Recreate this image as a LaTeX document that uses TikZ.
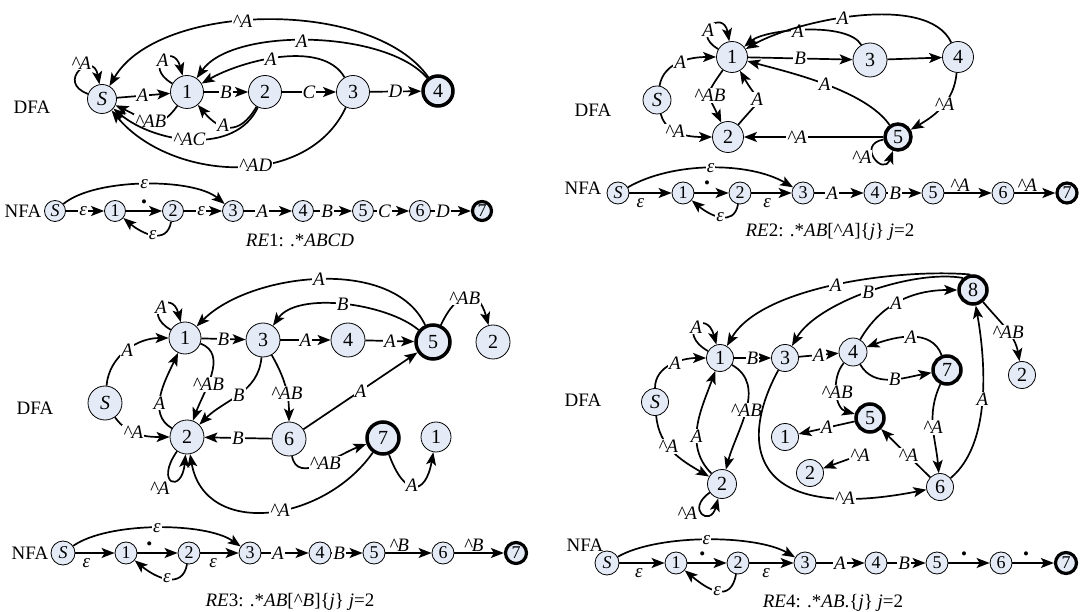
\documentclass[tikz,border=0pt]{standalone}
\usepackage{fontspec}
\setmainfont{Liberation Serif}
\usetikzlibrary{arrows.meta}
\definecolor{nfill}{RGB}{228,235,247}
\newcommand{\crt}{\textasciicircum}
\tikzset{
  st/.style={circle,draw,fill=nfill,line width=0.8pt,inner sep=0pt,minimum size=#1,font=\fontsize{20}{20}\selectfont},
  st/.default=32pt,
  fin/.style={st=#1,line width=3.5pt},
  fin/.default=30pt,
  sm/.style={circle,draw,fill=nfill,line width=0.8pt,inner sep=0pt,minimum size=#1,font=\fontsize{18}{18}\selectfont},
  sm/.default=22pt,
  smfin/.style={sm=#1,line width=3.2pt},
  smfin/.default=20pt,
  itl/.style={font=\fontsize{20}{20}\selectfont\itshape},
  itm/.style={font=\fontsize{18}{18}\selectfont\itshape},
  lab/.style={fill=white,inner sep=1pt,font=\fontsize{19}{19}\selectfont\itshape},
  lbel/.style={lab,below=4pt},
  labv/.style={lab,above=0pt},
  dotl/.style={inner sep=0pt,above=3pt,font=\fontsize{17}{17}\selectfont},
  txt/.style={font=\fontsize{19}{19}\selectfont},
  arr/.style={line width=1.7pt,-{Stealth[length=13pt,width=10pt,inset=3pt]}},
}
\begin{document}
\begin{tikzpicture}[x=1pt,y=-1pt]
\fill[white] (0,0) rectangle (1085,612);
\useasboundingbox (0,0) rectangle (1085,612);

%%%%%%%%%%%%%%%% RE1 %%%%%%%%%%%%%%%%
\node[txt] (r1dfa) at (32,107) {DFA};
\node[st=29pt,itl] (r1S) at (102,99) {S};
\node[st=33pt] (r1a) at (187,92) {1};
\node[st=33pt] (r1b) at (265,92) {2};
\node[st=33pt] (r1c) at (353,92) {3};
\node[fin=30pt] (r1d) at (438,91) {4};
\draw[arr] (r1S) -- node[lab,pos=.48]{A} (r1a);
\draw[arr] (r1a) -- node[lab]{B} (r1b);
\draw[arr] (r1b) -- node[lab]{C} (r1c);
\draw[arr] (r1c) -- node[lab]{D} (r1d);
\draw[arr] (r1a) to[out=150,in=105,distance=35pt] node[lab]{A} (r1a);
\draw[arr] (r1c) to[out=120,in=30,looseness=.8] node[lab,pos=.55]{A} (r1a);
\draw[arr] (r1d) to[out=130,in=55,looseness=.7] node[lab,pos=.53]{A} (r1a);
\draw[arr] (r1d) to[out=125,in=60,looseness=.78] node[lab,pos=.56]{\crt A} (r1S);
\draw[arr] (r1S) to[out=160,in=100,distance=35pt] node[lab,pos=.55,above=-1pt]{\crt A} (r1S);
\draw[arr] (r1a) to[out=235,in=-25,looseness=1.4] node[lab,pos=.5]{\crt AB} (r1S);
\draw[arr] (r1b) to[out=240,in=-50,looseness=1.5] node[lab,pos=.6]{A} (r1a);
\draw[arr] (r1b) to[out=245,in=-40,looseness=.95] node[lab,pos=.52]{\crt AC} (r1S);
\draw[arr] (r1c) to[out=245,in=-50] node[lab,pos=.43]{\crt AD} (r1S);

\node[txt] (r1nfa) at (23,211) {NFA};
\node[sm=21pt,itm] (r1s0) at (55,211) {S};
\node[sm=21pt] (r1s1) at (115,211) {1};
\node[sm=21pt] (r1s2) at (173,211) {2};
\node[sm=21pt] (r1s3) at (233,211) {3};
\node[sm=21pt] (r1s4) at (303,211) {4};
\node[sm=21pt] (r1s5) at (363,211) {5};
\node[sm=21pt] (r1s6) at (420,211) {6};
\node[smfin=19pt] (r1s7) at (482,211) {7};
\draw[arr] (r1s0) -- node[lab,pos=.45]{ε} (r1s1);
\draw[arr] (r1s1) -- node[dotl]{•} (r1s2);
\draw[arr] (r1s2) -- node[lab,pos=.45]{ε} (r1s3);
\draw[arr] (r1s3) -- node[lab,pos=.38]{A} (r1s4);
\draw[arr] (r1s4) -- node[lab,pos=.35]{B} (r1s5);
\draw[arr] (r1s5) -- node[lab,pos=.3]{C} (r1s6);
\draw[arr] (r1s6) -- node[lab,pos=.3]{D} (r1s7);
\draw[arr] (r1s0) to[out=40,in=140,looseness=.65] node[lab]{ε} (r1s3);
\draw[arr] (r1s2) to[out=-100,in=-40,looseness=1.3] node[lab]{ε} (r1s1);
\node[txt] (r1cap) at (300,240) {\textit{RE}1: .*\textit{ABCD}};

%%%%%%%%%%%%%%%% RE2 %%%%%%%%%%%%%%%%
\node[txt] (r2dfa) at (593,110) {DFA};
\node[st=28pt,itl] (r2S) at (657,100) {S};
\node[st=31pt] (r2a) at (732,57) {1};
\node[st=31pt] (r2b) at (728,137) {2};
\node[st=34pt] (r2c) at (870,60) {3};
\node[st=31pt] (r2d) at (958,57) {4};
\node[fin=26pt] (r2e) at (898,137) {5};
\draw[arr] (r2a) to[out=150,in=100,distance=33pt] node[lab,pos=.4]{A} (r2a);
\draw[arr] (r2S) to[out=80,in=180] node[lab]{A} (r2a);
\draw[arr] (r2S) to[out=-75,in=180] node[lab,pos=.4]{\crt A} (r2b);
\draw[arr] (r2a) to[out=235,in=115,looseness=1.6] node[lab]{\crt AB} (r2b);
\draw[arr] (r2b) to[out=50,in=-60,looseness=2] node[lab]{A} (r2a);
\draw[arr] (r2a) -- node[lab]{B} (r2c);
\draw[arr] (r2c) -- (r2d);
\draw[arr] (r2c) to[out=120,in=40,looseness=.6] node[lab,pos=.55]{A} (r2a);
\draw[arr] (r2d) to[out=115,in=30,looseness=.7] node[lab,pos=.56]{A} (r2a);
\draw[arr] (r2d) to[out=-95,in=30] node[lab,pos=.45]{\crt A} (r2e);
\draw[arr] (r2e) to[out=190,in=250,distance=28pt] node[lab,left=1pt]{\crt A} (r2e);
\draw[arr] (r2e) to[out=125,in=-15,looseness=.7] node[lab]{A} (r2a);
\draw[arr] (r2e) -- node[lab,pos=.62]{\crt A} (r2b);

\node[txt] (r2nfa) at (583,188) {NFA};
\node[sm=22pt,itm] (r2s0) at (618,193) {S};
\node[sm] (r2s1) at (683,193) {1};
\node[sm] (r2s2) at (740,193) {2};
\node[sm] (r2s3) at (803,193) {3};
\node[sm] (r2s4) at (875,193) {4};
\node[sm] (r2s5) at (933,193) {5};
\node[sm] (r2s6) at (1003,193) {6};
\node[smfin=20pt] (r2s7) at (1067,193) {7};
\draw[arr] (r2s0) -- node[lbel,pos=.26]{ε} (r2s1);
\draw[arr] (r2s1) -- node[dotl,pos=.37,above=1pt]{•} (r2s2);
\draw[arr] (r2s2) -- node[lbel,pos=.39]{ε} (r2s3);
\draw[arr] (r2s3) -- node[lab,pos=.36]{A} (r2s4);
\draw[arr] (r2s4) -- node[lab,pos=.25]{B} (r2s5);
\draw[arr] (r2s5) -- node[labv,pos=.33]{\crt A} (r2s6);
\draw[arr] (r2s6) -- node[labv,pos=.31]{\crt A} (r2s7);
\draw[arr] (r2s0) to[out=30,in=150,looseness=.8] node[lab]{ε} (r2s3);
\draw[arr] (r2s2) to[out=-100,in=-40,looseness=1.3] node[lab]{ε} (r2s1);
\node[txt] (r2cap) at (830,232) {\textit{RE}2: .*\textit{AB}[\crt\textit{A}]\{\textit{j}\} \textit{j}=2};

%%%%%%%%%%%%%%%% RE3 %%%%%%%%%%%%%%%%
\node[txt] (r3dfa) at (35,408) {DFA};
\node[st=34pt,itl] (r3S) at (105,403) {S};
\node[st=32pt] (r3a) at (185,338) {1};
\node[st=34pt] (r3c) at (263,340) {3};
\node[st=34pt] (r3d) at (348,340) {4};
\node[fin=34pt] (r3e) at (433,342) {5};
\node[st=34pt] (r3x) at (493,342) {2};
\node[st=34pt] (r3b) at (187,437) {2};
\node[st=34pt] (r3f) at (289,439) {6};
\node[fin=32pt] (r3g) at (383,438) {7};
\node[st=30pt] (r3y) at (436,437) {1};
\draw[arr] (r3a) to[out=150,in=105,distance=35pt] node[lab]{A} (r3a);
\draw[arr] (r3S) to[out=85,in=180] node[lab]{A} (r3a);
\draw[arr] (r3a) -- node[lab]{B} (r3c);
\draw[arr] (r3c) -- node[lab]{A} (r3d);
\draw[arr] (r3d) -- node[lab]{A} (r3e);
\draw[arr] (r3e) to[out=115,in=45,looseness=.85] node[lab]{A} (r3a);
\draw[arr] (r3e) to[out=140,in=55,looseness=.74] node[lab]{B} (r3c);
\draw[arr] (r3e) to[out=65,in=105,looseness=2.1] node[lab,pos=.45]{\crt AB} (r3x);
\draw[arr] (r3a) to[out=-20,in=70] node[lab,pos=.6]{\crt AB} (r3b);
\draw[arr] (r3b) to[out=150,in=-115] node[lab,pos=.4]{A} (r3a);
\draw[arr] (r3c) to[out=-95,in=45] node[lab]{B} (r3b);
\draw[arr] (r3c) to[out=-60,in=90] node[lab,pos=.6]{\crt AB} (r3f);
\draw[arr] (r3f) -- node[lab]{A} (r3e);
\draw[arr] (r3f) -- node[lab]{B} (r3b);
\draw[arr] (r3S) to[out=-55,in=180] node[lab,pos=.4]{\crt A} (r3b);
\draw[arr] (r3b) to[out=235,in=265,distance=40pt] node[lab,anchor=north east,pos=.5]{\crt A} (r3b);
\draw[arr] (r3g) to[out=235,in=-80,looseness=1.2] node[lab,pos=.45]{\crt A} (r3b);
\draw[arr] (r3f) to[out=-80,in=200] node[lab,pos=.55]{\crt AB} (r3g);
\draw[arr] (r3g) to[out=-70,in=-100,distance=45pt] node[lab,pos=.45]{A} (r3y);

\node[txt] (r3nfa) at (30,553) {NFA};
\node[sm=24pt,itm] (r3s0) at (63,553) {S};
\node[sm] (r3s1) at (126,553) {1};
\node[sm] (r3s2) at (189,553) {2};
\node[sm] (r3s3) at (250,553) {3};
\node[sm] (r3s4) at (320,553) {4};
\node[sm] (r3s5) at (374,553) {5};
\node[sm] (r3s6) at (443,553) {6};
\node[smfin=21pt] (r3s7) at (516,553) {7};
\draw[arr] (r3s0) -- node[lbel,pos=.28]{ε} (r3s1);
\draw[arr] (r3s1) -- node[dotl,pos=.3]{•} (r3s2);
\draw[arr] (r3s2) -- node[lbel,pos=.33]{ε} (r3s3);
\draw[arr] (r3s3) -- node[lab,pos=.35]{A} (r3s4);
\draw[arr] (r3s4) -- node[lab,pos=.25]{B} (r3s5);
\draw[arr] (r3s5) -- node[labv,pos=.3]{\crt B} (r3s6);
\draw[arr] (r3s6) -- node[labv,pos=.39]{\crt B} (r3s7);
\draw[arr] (r3s0) to[out=35,in=145,looseness=.65] node[lab]{ε} (r3s3);
\draw[arr] (r3s2) to[out=-100,in=-40,looseness=1.3] node[lab]{ε} (r3s1);
\node[txt] (r3cap) at (290,602) {\textit{RE}3: .*\textit{AB}[\crt\textit{B}]\{\textit{j}\} \textit{j}=2};

%%%%%%%%%%%%%%%% RE4 %%%%%%%%%%%%%%%%
\node[txt] (r4dfa) at (583,400) {DFA};
\node[st=27pt,itl] (r4S) at (655,402) {S};
\node[st=27pt] (r4a) at (720,358) {1};
\node[st=27pt] (r4c) at (785,358) {3};
\node[st=28pt] (r4d) at (853,352) {4};
\node[fin=28pt] (r4g) at (947,370) {7};
\node[fin=28pt] (r4e) at (870,418) {5};
\node[fin=28pt] (r4h) at (973,290) {8};
\node[st=27pt] (r4x) at (1022,375) {2};
\node[st=29pt] (r4b) at (722,484) {2};
\node[st=27pt] (r4f) at (940,487) {6};
\node[st=27pt] (r4y) at (785,437) {1};
\node[st=27pt] (r4z) at (810,473) {2};
\draw[arr] (r4a) to[out=150,in=105,distance=38pt] node[lab]{A} (r4a);
\draw[arr] (r4S) to[out=90,in=180] node[lab,pos=.55]{A} (r4a);
\draw[arr] (r4a) -- node[lab]{B} (r4c);
\draw[arr] (r4c) -- node[lab]{A} (r4d);
\draw[arr] (r4S) to[out=-85,in=150] node[lab,pos=.4]{\crt A} (r4b);
\draw[arr] (r4a) to[out=-30,in=75] node[lab]{\crt AB} (r4b);
\draw[arr] (r4b) to[out=135,in=-110] node[lab,pos=.4]{A} (r4a);
\draw[arr] (r4b) to[out=215,in=255,distance=30pt] node[lab,left=3pt]{\crt A} (r4b);
\draw[arr] (r4c) .. controls (740,440) and (745,525) .. node[lab,pos=.82]{\crt A} (r4f);
\draw[arr] (r4g) to[out=-115,in=95] node[lab]{\crt A} (r4f);
\draw[arr] (r4f) to[out=40,in=-80,looseness=.8] node[lab]{A} (r4h);
\draw[arr] (r4h) to[out=-50,in=100] node[lab,pos=.55]{\crt AB} (r4x);
\draw[arr] (r4h.100) to[out=175,in=60,looseness=.7] node[lab]{A} (r4a);
\draw[arr] (r4h.130) to[out=170,in=60,looseness=.7] node[lab]{B} (r4c);
\draw[arr] (r4d) to[out=60,in=180] node[lab,pos=.45]{A} (r4h);
\draw[arr] (r4g) to[out=110,in=20] node[lab]{A} (r4d);
\draw[arr] (r4d) to[out=-60,in=190] node[lab,pos=.55]{B} (r4g);
\draw[arr] (r4d) to[out=230,in=165] node[lab]{\crt AB} (r4e);
\draw[arr] (r4e) -- node[lab]{A} (r4y);
\draw[arr] (r4f) -- node[lab,pos=.45]{\crt A} (r4e);
\node[lab] (r4l) at (860,455) {\crt A};
\draw[arr] (r4l) -- (r4z);

\node[txt] (r4nfa) at (585,545) {NFA};
\node[sm=24pt,itm] (r4s0) at (607,563) {S};
\node[sm] (r4s1) at (676,563) {1};
\node[sm] (r4s2) at (738,563) {2};
\node[sm] (r4s3) at (805,563) {3};
\node[sm] (r4s4) at (876,563) {4};
\node[sm] (r4s5) at (937,563) {5};
\node[sm] (r4s6) at (1001,563) {6};
\node[smfin=21pt] (r4s7) at (1066,563) {7};
\draw[arr] (r4s0) -- node[lbel,pos=.43]{ε} (r4s1);
\draw[arr] (r4s1) -- node[dotl,pos=.38]{•} (r4s2);
\draw[arr] (r4s2) -- node[lbel,pos=.38]{ε} (r4s3);
\draw[arr] (r4s3) -- node[lab,pos=.49]{A} (r4s4);
\draw[arr] (r4s4) -- node[lab,pos=.44]{B} (r4s5);
\draw[arr] (r4s5) -- node[dotl,pos=.38]{•} (r4s6);
\draw[arr] (r4s6) -- node[dotl,pos=.33]{•} (r4s7);
\draw[arr] (r4s0) to[out=30,in=150,looseness=.66] node[lab]{ε} (r4s3);
\draw[arr] (r4s2) to[out=-100,in=-40,looseness=1.5] node[lab]{ε} (r4s1);
\node[txt] (r4cap) at (833,603) {\textit{RE}4: .*\textit{AB}.\{\textit{j}\} \textit{j}=2};
\end{tikzpicture}
\end{document}
